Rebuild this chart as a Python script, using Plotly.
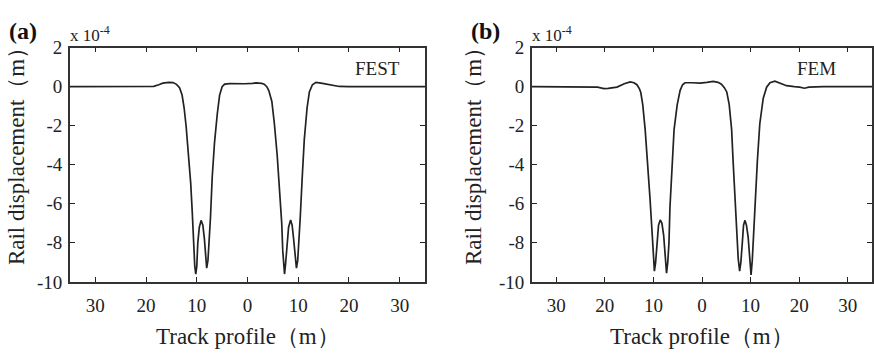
import plotly.graph_objects as go

# Rail displacement (units of 1e-4 m) along the track, FEST solution
fest_x = [-35, -25, -20, -18.5, -17.5, -16.7, -15.5, -14.7, -14.0, -13.4, -12.9, -12.5, -12.1,
          -11.6, -11.2, -10.9, -10.6, -10.4, -10.2, -10.0, -9.8, -9.5, -9.15, -8.8, -8.5, -8.25,
          -8.05, -7.8, -7.55, -7.3, -6.95, -6.5, -5.96, -5.5, -5.0, -4.5, -3.5, -2.2, -0.5, 1.0,
          1.7, 2.8, 3.3, 3.8, 4.2, 4.8, 5.3, 5.85, 6.3, 6.75, 6.95, 7.15, 7.3, 7.5, 7.75, 8.1,
          8.5, 8.8, 9.05, 9.35, 9.65, 9.9, 10.15, 10.4, 10.8, 11.2, 11.75, 12.2, 12.8, 13.5,
          14.5, 15.5, 17.0, 18.1, 20.0, 25, 35]
fest_y = [0.0, 0.0, 0.0, 0.02, 0.1, 0.18, 0.22, 0.21, 0.12, -0.05, -0.43, -1.08, -2.04,
          -3.5, -4.94, -6.39, -8.2, -9.2, -9.6, -9.2, -8.0, -7.2, -6.85, -7.1, -7.8, -8.8,
          -9.3, -8.9, -8.0, -6.7, -4.6, -2.85, -1.4, -0.43, 0.0, 0.13, 0.16, 0.14, 0.15, 0.17,
          0.19, 0.17, 0.13, 0.0, -0.2, -0.76, -1.9, -3.5, -5.1, -7.0, -8.4, -9.3, -9.6, -9.1,
          -8.1, -7.2, -6.83, -7.1, -7.7, -8.7, -9.3, -8.9, -8.0, -6.7, -4.6, -2.7, -1.08,
          -0.27, 0.1, 0.22, 0.18, 0.13, 0.05, 0.01, 0.0, 0.0, 0.0]

# Rail displacement (units of 1e-4 m) along the track, FEM solution
fem_x = [-35, -25, -21.5, -20.2, -19.3, -17.5, -16.0, -14.8, -14.0, -13.4, -12.9, -12.6,
         -12.2, -11.7, -11.2, -10.7, -10.3, -10.0, -9.8, -9.55, -9.3, -8.95, -8.6, -8.25,
         -7.9, -7.55, -7.3, -7.05, -6.8, -6.6, -6.2, -5.75, -5.1, -4.5, -4.0, -3.5, -2.0,
         -0.4, 1.0, 2.3, 3.3, 4.0, 4.6, 5.1, 5.6, 6.1, 6.4, 6.8, 7.1, 7.45, 7.75, 8.0, 8.3,
         8.55, 8.85, 9.15, 9.5, 9.8, 10.1, 10.35, 10.55, 10.9, 11.4, 11.9, 12.6, 13.3, 14.0,
         15.0, 16.0, 17.4, 19.0, 20.1, 21.1, 22.0, 25, 35]
fem_y = [0.0, 0.0, -0.02, -0.1, -0.09, -0.02, 0.15, 0.24, 0.2, 0.1, -0.1, -0.3,
         -0.92, -2.2, -3.8, -5.75, -7.36, -8.65, -9.45, -9.0, -8.2, -7.1, -6.83, -7.0,
         -7.6, -8.8, -9.55, -9.0, -8.0, -6.2, -4.1, -2.2, -0.92, -0.19, 0.1, 0.2, 0.2,
         0.18, 0.22, 0.27, 0.22, 0.13, -0.05, -0.27, -0.92, -2.2, -3.8, -5.75, -7.7, -8.8,
         -9.45, -9.0, -8.0, -7.1, -6.85, -7.1, -7.7, -8.8, -9.65, -8.9, -7.8, -5.9, -3.8,
         -1.9, -0.6, -0.03, 0.2, 0.28, 0.2, 0.05, 0.0, -0.02, -0.08, -0.02, 0.0, 0.0]

x_tickvals = [-30, -20, -10, 0, 10, 20, 30]
x_ticktext = ["30", "20", "10", "0", "10", "20", "30"]
y_tickvals = [2, 0, -2, -4, -6, -8, -10]
y_ticktext = ["2", "0", "-2", "-4", "-6", "-8", "-10"]

W, H = 874, 354
SERIF = "Liberation Serif"
INK = "#222222"


def px(x):
    return x / W


def py(y):
    return 1 - y / H


fig = go.Figure()
fig.add_trace(go.Scatter(x=fest_x, y=fest_y, mode="lines", xaxis="x", yaxis="y",
                         line=dict(color=INK, width=1.7), showlegend=False))
fig.add_trace(go.Scatter(x=fem_x, y=fem_y, mode="lines", xaxis="x2", yaxis="y2",
                         line=dict(color=INK, width=1.7), showlegend=False))

common_x = dict(range=[-35, 35], tickvals=x_tickvals, ticktext=x_ticktext,
                ticks="inside", ticklen=5, tickwidth=1.3, tickcolor=INK,
                showline=True, linecolor="#333333", linewidth=1.7, mirror="ticks",
                showgrid=False, zeroline=False, ticklabelstandoff=5,
                tickfont=dict(family=SERIF, size=19, color=INK))
common_y = dict(range=[-10, 2], tickvals=y_tickvals, ticktext=y_ticktext,
                ticks="inside", ticklen=5, tickwidth=1.3, tickcolor=INK,
                showline=True, linecolor="#333333", linewidth=1.7, mirror="ticks",
                showgrid=False, zeroline=False, ticklabelstandoff=2,
                tickfont=dict(family=SERIF, size=19, color=INK))

y_dom = [py(289), py(40)]
fig.update_layout(
    width=W, height=H,
    margin=dict(l=0, r=0, t=0, b=0),
    paper_bgcolor="white", plot_bgcolor="white",
    xaxis=dict(domain=[px(70), px(425)], anchor="y", **common_x),
    yaxis=dict(domain=y_dom, anchor="x", **common_y),
    xaxis2=dict(domain=[px(532), px(872)], anchor="y2", **common_x),
    yaxis2=dict(domain=y_dom, anchor="x2", **common_y),
)

annotations = []
panels = [("(a)", "FEST", 70, 425, 7, 353, 54), ("(b)", "FEM", 532, 872, 469, 795, 59)]
for tag, name, left, right, tag_x, name_x, ytitle_off in panels:
    annotations.append(dict(text="<b>%s</b>" % tag, x=px(tag_x), y=py(22), xref="paper",
                            yref="paper", xanchor="left", yanchor="middle", showarrow=False,
                            font=dict(family=SERIF, size=24, color="#111111")))
    annotations.append(dict(text="x 10<sup>-4</sup>", x=px(left - 2), y=py(25), xref="paper",
                            yref="paper", xanchor="left", yanchor="middle", showarrow=False,
                            font=dict(family=SERIF, size=17, color=INK)))
    annotations.append(dict(text=name, x=px(name_x), y=py(62), xref="paper", yref="paper",
                            xanchor="left", yanchor="middle", showarrow=False,
                            font=dict(family=SERIF, size=19, color=INK)))
    annotations.append(dict(text="Track profile（m）", x=px((left + right) / 2), y=py(347),
                            xref="paper", yref="paper", xanchor="center", yanchor="middle",
                            showarrow=False, font=dict(family=SERIF, size=23, color=INK)))
    annotations.append(dict(text="Rail displacement（m）", x=px(left - ytitle_off), y=py(150),
                            xref="paper", yref="paper", xanchor="center", yanchor="middle",
                            textangle=-90, showarrow=False,
                            font=dict(family=SERIF, size=23, color=INK)))
fig.update_layout(annotations=annotations)

fig.write_html("out.html")
